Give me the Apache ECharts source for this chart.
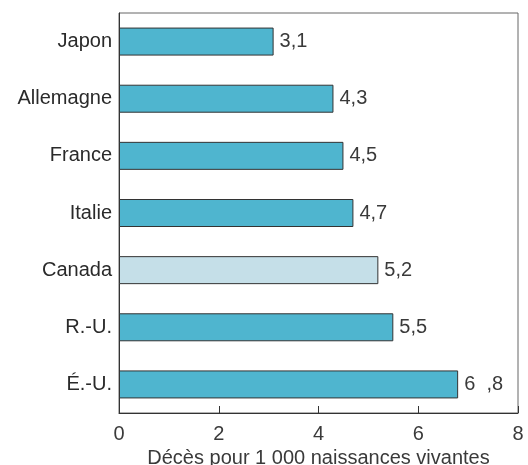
<!DOCTYPE html>
<html><head><meta charset="utf-8">
<script src="https://cdn.jsdelivr.net/npm/echarts@6/dist/echarts.min.js"></script>
<style>html,body{margin:0;padding:0;background:#fff}#c{width:528px;height:465px}</style>
</head><body><div id="c"></div>
<script>
const categories = ["Japon","Allemagne","France","Italie","Canada","R.-U.","É.-U."];
const values = [3.1,4.3,4.5,4.7,5.2,5.5,6.8];
const valueLabels = ["3,1","4,3","4,5","4,7","5,2","5,5","6  ,8"];
const xTicks = [0,2,4,6,8];
const highlight = "Canada";

const chart = echarts.init(document.getElementById('c'));
const font = "'Liberation Sans', Arial, sans-serif";
chart.setOption({
  animation:false,
  grid:{left:119,top:13,right:10,bottom:52,show:true,borderColor:'#666',borderWidth:1,
    containLabel:false,outerBoundsMode:'none'},
  xAxis:{type:'value',min:xTicks[0],max:xTicks[xTicks.length-1],interval:2,
    name:'Décès pour 1 000 naissances vivantes',nameLocation:'middle',nameGap:32,
    nameTextStyle:{fontFamily:font,fontSize:20,color:'#3a3a3a'},
    axisLine:{show:true,lineStyle:{color:'#333'}},
    axisTick:{show:true,inside:true,length:7,lineStyle:{color:'#333'}},
    axisLabel:{fontFamily:font,fontSize:20,color:'#3a3a3a',margin:11},
    splitLine:{show:false}},
  yAxis:{type:'category',data:categories,inverse:true,
    axisLine:{show:true,lineStyle:{color:'#333'}},axisTick:{show:false},
    axisLabel:{fontFamily:font,fontSize:20,color:'#2a2a2a',margin:7}},
  series:[{type:'bar',barWidth:28,
    data:values.map((v,i)=>({value:v,itemStyle:{color:categories[i]===highlight?'#c5dfe8':'#4fb5cf'}})),
    itemStyle:{borderColor:'#333',borderWidth:1},
    label:{show:true,position:'right',distance:6,fontFamily:font,fontSize:20,color:'#3a3a3a',
      formatter:p=>valueLabels[p.dataIndex]}}]
});
</script></body></html>
